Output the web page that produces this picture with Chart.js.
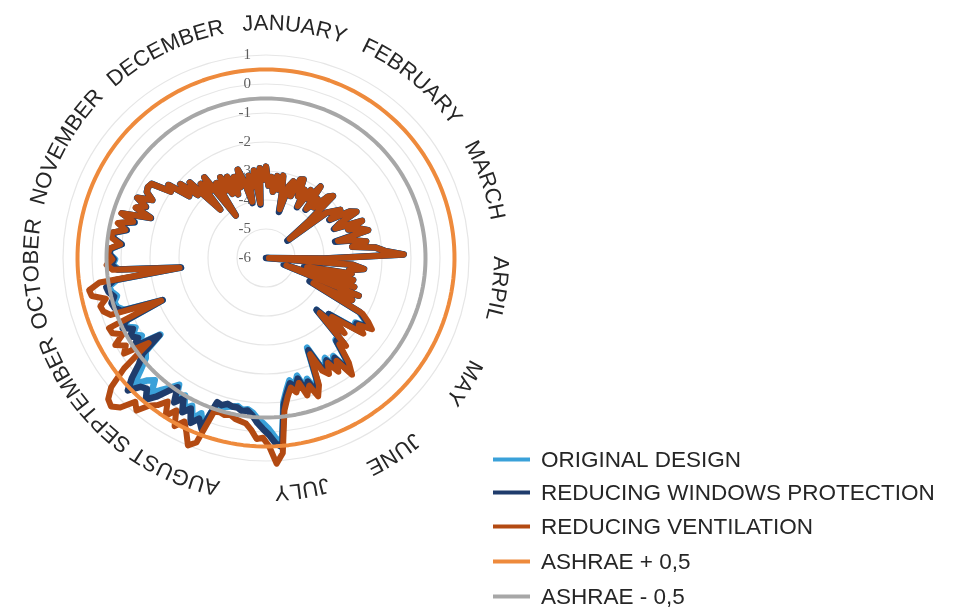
<!DOCTYPE html>
<html>
<head>
<meta charset="utf-8">
<title>Daily comfort index – radar</title>
<script src="https://cdn.jsdelivr.net/npm/chart.js@4.4.1/dist/chart.umd.min.js"></script>
<style>
  html, body { margin: 0; padding: 0; background: #ffffff; }
  #wrap { width: 954px; height: 611px; position: relative; }
</style>
</head>
<body>
<div id="wrap"><canvas id="chart" width="954" height="611"></canvas></div>
<script>
// ---- data: one value every second day of the year, starting 1 January ----
const MONTHS = ['JANUARY', 'FEBRUARY', 'MARCH', 'ARPIL', 'MAY', 'JUNE',
                'JULY', 'AUGUST', 'SEPTEMBER', 'OCTOBER', 'NOVEMBER', 'DECEMBER'];

const DAY_LABELS = Array.from({ length: 183 }, (_, i) => String(1 + 2 * i));

const TICK_VALUES = [1, 0, -1, -2, -3, -4, -5, -6];

const ORIGINAL_DESIGN = [
  -2.85, -3.5, -3.2, -3.7, -3.15, -3.6, -3.1, -3.7, -4.3, -3.4,
  -3.2, -3.7, -3.05, -3.0, -3.6, -3.3, -3.9, -3.2, -3.5, -2.9,
  -3.8, -3.3, -3.6, -3.0, -2.85, -4.0, -5.0, -3.4, -3.2, -2.95,
  -3.4, -2.7, -2.5, -3.2, -3.4, -2.45, -3.0, -2.6, -2.35, -3.5,
  -2.9, -2.5, -3.0, -2.2, -1.9, -1.25, -3.95, -5.95, -3.0, -2.6,
  -3.1, -3.0, -4.6, -2.9, -3.3, -2.8, -5.3, -2.55, -3.2, -2.7,
  -4.25, -2.3, -2.0, -1.72, -2.2, -1.9, -2.6, -3.1, -2.4, -3.5,
  -2.05, -2.3, -1.6, -1.2, -1.9, -1.6, -2.0, -1.7, -1.9, -2.6,
  -1.5, -1.15, -1.6, -1.3, -1.8, -1.5, -1.7, -1.4, -1.0, 0.45,
  0.2, -0.1, -0.3, -0.45, -0.65, -0.75, -0.7, -0.8, -0.75, -0.7,
  -0.6, -0.7, 0.2, -0.2, 0.1, -0.3, -0.1, -0.5, -0.2, -0.7,
  -0.45, -0.2, 0.1, -0.3, -0.1, 0.3, -0.2, -0.6, -0.75, -1.5,
  -0.6, -0.95, -0.7, -0.9, -0.6, -0.75, -2.15, -0.8, -0.6, -0.55,
  -0.7, -0.55, -0.5, -0.8, -3.05, -0.9, -0.7, -0.8, -0.6, -0.65,
  -1.0, -0.7, -0.65, -1.1, -0.8, -1.3, -0.8, -1.8, -1.2, -1.5,
  -1.1, -1.6, -1.3, -1.25, -1.3, -2.0, -1.8, -2.6, -2.1, -2.8,
  -2.3, -3.7, -2.6, -3.0, -2.5, -4.2, -2.9, -3.3, -2.8, -3.5,
  -2.9, -3.6, -3.0, -3.4, -2.8, -3.3, -4.0, -3.1, -3.5, -2.95,
  -4.1, -2.9, -3.3
];

const REDUCING_WINDOWS_PROTECTION = [
  -2.85, -3.5, -3.2, -3.7, -3.15, -3.6, -3.1, -3.7, -4.35, -3.4,
  -3.2, -3.7, -3.05, -3.0, -3.6, -3.3, -3.95, -3.2, -3.5, -2.9,
  -3.85, -3.3, -3.6, -3.0, -2.85, -4.05, -5.05, -3.4, -3.2, -2.95,
  -3.45, -2.7, -2.5, -3.2, -3.45, -2.45, -3.0, -2.6, -2.35, -3.55,
  -2.9, -2.5, -3.0, -2.2, -1.9, -1.25, -4.0, -6.0, -3.0, -2.6,
  -3.1, -3.0, -4.65, -2.9, -3.3, -2.8, -5.35, -2.55, -3.2, -2.7,
  -4.3, -2.25, -1.95, -1.68, -2.15, -1.85, -2.55, -3.1, -2.35, -3.5,
  -2.0, -2.25, -1.52, -1.12, -1.82, -1.5, -1.9, -1.6, -1.8, -2.5,
  -1.4, -1.05, -1.5, -1.2, -1.7, -1.4, -1.6, -1.3, -0.9, 0.55,
  0.4, 0.1, -0.1, -0.3, -0.55, -0.7, -0.65, -0.75, -0.75, -0.8,
  -0.7, -0.75, 0.3, 0.0, 0.25, -0.2, 0.05, -0.4, -0.1, -0.6,
  -0.3, 0.1, 0.4, 0.1, 0.2, 0.6, 0.2, -0.3, -0.6, -1.45,
  -0.5, -0.8, -0.6, -0.8, -0.5, -0.7, -2.15, -0.7, -0.5, -0.45,
  -0.6, -0.45, -0.4, -0.7, -3.05, -0.85, -0.65, -0.75, -0.6, -0.62,
  -1.0, -0.7, -0.65, -1.1, -0.8, -1.3, -0.8, -1.8, -1.2, -1.5,
  -1.1, -1.6, -1.3, -1.25, -1.3, -2.0, -1.8, -2.6, -2.1, -2.8,
  -2.3, -3.7, -2.6, -3.0, -2.5, -4.2, -2.9, -3.3, -2.8, -3.5,
  -2.9, -3.6, -3.0, -3.4, -2.8, -3.3, -4.05, -3.1, -3.5, -2.95,
  -4.15, -2.9, -3.3
];

const REDUCING_VENTILATION = [
  -2.85, -3.5, -3.2, -3.7, -3.15, -3.6, -3.1, -3.7, -4.25, -3.4,
  -3.2, -3.7, -3.05, -3.0, -3.6, -3.3, -3.9, -3.2, -3.5, -2.9,
  -3.8, -3.3, -3.6, -3.0, -2.85, -3.95, -4.95, -3.4, -3.2, -2.95,
  -3.4, -2.7, -2.5, -3.2, -3.4, -2.45, -3.0, -2.6, -2.35, -3.45,
  -2.9, -2.5, -3.0, -2.2, -1.9, -1.25, -3.9, -5.9, -3.0, -2.6,
  -3.1, -3.0, -4.55, -2.9, -3.3, -2.8, -5.25, -2.55, -3.2, -2.7,
  -4.15, -2.15, -1.85, -1.6, -2.05, -1.75, -2.45, -2.95, -2.25, -3.35,
  -1.9, -2.1, -1.4, -1.0, -1.7, -1.35, -1.8, -1.45, -1.65, -2.35,
  -1.25, -0.9, -1.35, -1.05, -1.55, -1.25, -1.45, -1.15, -0.7, 0.75,
  1.1, 0.5, 0.2, 0.25, -0.05, -0.25, -0.3, -0.35, -0.45, -0.4,
  -0.45, -0.4, 0.8, 1.0, 0.6, 0.3, 0.6, 0.1, 0.45, 0.0,
  0.3, 0.5, 0.9, 0.7, 1.2, 1.4, 1.3, 0.95, 0.2, -1.0,
  -0.1, -0.3, 0.0, -0.4, -0.1, -0.07, -2.1, -0.3, -0.1, -0.05,
  -0.3, 0.15, 0.2, -0.2, -3.0, -0.7, -0.5, -0.7, -0.55, -0.6,
  -0.95, -0.65, -0.6, -1.05, -0.75, -1.25, -0.78, -1.78, -1.18, -1.48,
  -1.1, -1.6, -1.3, -1.25, -1.3, -2.0, -1.8, -2.6, -2.1, -2.8,
  -2.3, -3.7, -2.6, -3.0, -2.5, -4.2, -2.9, -3.3, -2.8, -3.5,
  -2.9, -3.6, -3.0, -3.4, -2.8, -3.3, -4.0, -3.1, -3.5, -2.95,
  -4.1, -2.9, -3.3
];

// comfort band limits (constant through the year)
const ASHRAE_UPPER = DAY_LABELS.map(() => 0.5);
const ASHRAE_LOWER = DAY_LABELS.map(() => -0.5);

// angular position (degrees clockwise from the top) of each month caption
const MONTH_LABEL_ANGLES = [7, 39.5, 70.5, 97.5, 122, 147, 171, 203, 233, 266, 299, 334];

// ---- drawing helpers ----
const TEXT_FONT = '"Liberation Sans", Arial, Helvetica, sans-serif';

function drawArcText(ctx, text, cx, cy, r, angleDeg) {
  const total = ctx.measureText(text).width;
  let a = angleDeg * Math.PI / 180 - total / (2 * r);
  for (const ch of text) {
    const w = ctx.measureText(ch).width;
    const ac = a + (w / 2) / r;
    ctx.save();
    ctx.translate(cx + r * Math.sin(ac), cy - r * Math.cos(ac));
    ctx.rotate(ac);
    ctx.fillText(ch, 0, 0);
    ctx.restore();
    a += w / r;
  }
}

const radialTickLabels = {
  id: 'radialTickLabels',
  beforeDatasetsDraw(chart) {
    const s = chart.scales.r;
    const ctx = chart.ctx;
    ctx.save();
    ctx.font = '15px "Liberation Serif", "Times New Roman", serif';
    ctx.fillStyle = '#5e5e5e';
    ctx.textAlign = 'right';
    ctx.textBaseline = 'middle';
    TICK_VALUES.forEach(v => {
      const d = s.getDistanceFromCenterForValue(v);
      ctx.fillText(String(v), s.xCenter - 15, s.yCenter - d);
    });
    ctx.restore();
  }
};

const monthCaptions = {
  id: 'monthCaptions',
  afterDraw(chart) {
    const s = chart.scales.r;
    const ctx = chart.ctx;
    ctx.save();
    ctx.font = '22px ' + TEXT_FONT;
    ctx.fillStyle = '#262626';
    ctx.textAlign = 'center';
    ctx.textBaseline = 'alphabetic';
    MONTHS.forEach((m, i) => drawArcText(ctx, m, s.xCenter, s.yCenter, 228, MONTH_LABEL_ANGLES[i]));
    ctx.restore();
  }
};

const lineLegend = {
  id: 'lineLegend',
  afterDraw(chart) {
    const ctx = chart.ctx;
    const rows = [459.5, 492.5, 526.5, 561.5, 596.5];
    ctx.save();
    ctx.font = '22.5px ' + TEXT_FONT;
    ctx.textAlign = 'left';
    ctx.textBaseline = 'middle';
    chart.data.datasets.forEach((ds, i) => {
      const y = rows[i];
      ctx.strokeStyle = ds.borderColor;
      ctx.lineWidth = 4;
      ctx.lineCap = 'butt';
      ctx.beginPath();
      ctx.moveTo(493, y);
      ctx.lineTo(530, y);
      ctx.stroke();
      ctx.fillStyle = '#262626';
      ctx.fillText(ds.label, 541, y + 1);
    });
    ctx.restore();
  }
};

const lineDefaults = {
  fill: false,
  backgroundColor: 'transparent',
  pointRadius: 0,
  tension: 0,
  borderJoinStyle: 'round',
  borderCapStyle: 'round',
  clip: false
};

new Chart(document.getElementById('chart'), {
  type: 'radar',
  data: {
    labels: DAY_LABELS,
    datasets: [
      { ...lineDefaults, label: 'ORIGINAL DESIGN', data: ORIGINAL_DESIGN, borderColor: '#3aa1d9', borderWidth: 6.5, order: 5 },
      { ...lineDefaults, label: 'REDUCING WINDOWS PROTECTION', data: REDUCING_WINDOWS_PROTECTION, borderColor: '#1f3c6c', borderWidth: 6.5, order: 4 },
      { ...lineDefaults, label: 'REDUCING VENTILATION', data: REDUCING_VENTILATION, borderColor: '#b34a12', borderWidth: 6, order: 3 },
      { ...lineDefaults, label: 'ASHRAE + 0,5', data: ASHRAE_UPPER, borderColor: '#ee8a3c', borderWidth: 4, order: 1 },
      { ...lineDefaults, label: 'ASHRAE - 0,5', data: ASHRAE_LOWER, borderColor: '#a7a7a7', borderWidth: 4, order: 2 }
    ]
  },
  options: {
    responsive: false,
    animation: false,
    layout: { padding: { left: 63, right: 485, top: 55, bottom: 150 } },
    plugins: { legend: { display: false }, tooltip: { enabled: false } },
    scales: {
      r: {
        min: -6,
        max: 1,
        ticks: { stepSize: 1, display: false },
        grid: { circular: true, color: '#e6e6e6', lineWidth: 1.2 },
        angleLines: { display: false },
        pointLabels: { display: false }
      }
    }
  },
  plugins: [radialTickLabels, monthCaptions, lineLegend]
});
</script>
</body>
</html>
